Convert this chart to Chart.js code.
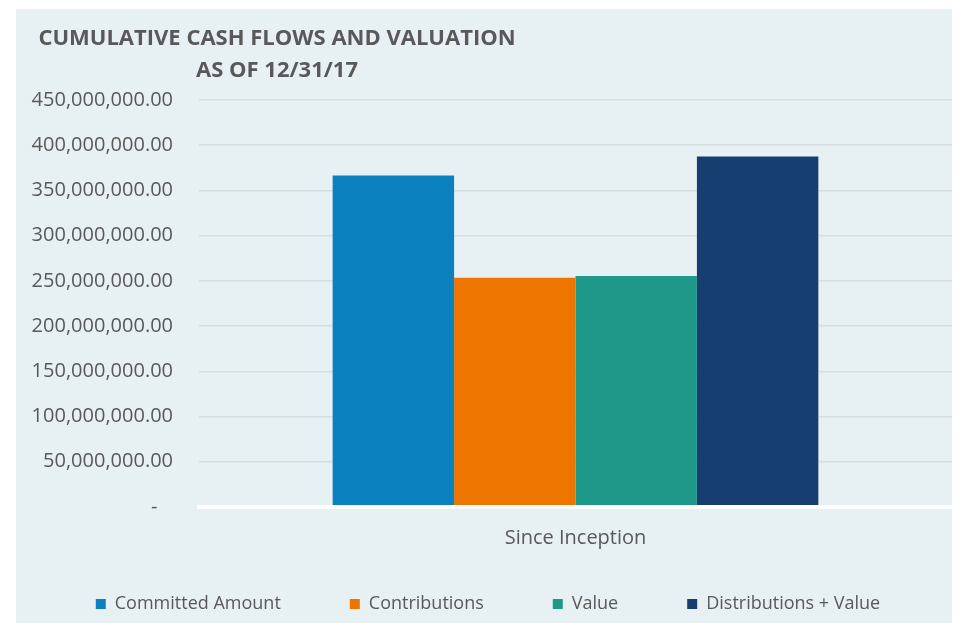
<!DOCTYPE html>
<html>
<head>
<meta charset="utf-8">
<script src="https://cdn.jsdelivr.net/npm/chart.js@4"></script>
<style>
  html, body { margin: 0; padding: 0; background: #ffffff; }
  #panel { position: absolute; left: 16px; top: 9px; width: 936px; height: 614px; background: #e7f0f3; }
</style>
</head>
<body>
<div id="panel"><canvas id="grafico"></canvas></div>
<script>
const categorias = ['Since Inception']
const titulo = ['CUMULATIVE CASH FLOWS AND VALUATION', 'AS OF 12/31/17']
const series = ['Committed Amount', 'Contributions', 'Value', 'Distributions + Value']
const valores = [366500000, 253500000, 255500000, 387500000]
const cores = ['#0b80be', '#ee7600', '#1f988a', '#173e70']
const eixoMin = 0
const eixoMax = 450000000
const eixoPasso = 50000000

const corTexto = '#595959'
const fonte = "'Open Sans', sans-serif"

// desenha o titulo em duas linhas, centrado no canto superior esquerdo
const pluginTitulo = {
	id: 'tituloExcel',
	afterDraw(chart) {
		const ctx = chart.ctx
		ctx.save()
		ctx.fillStyle = corTexto
		ctx.font = "bold 22px " + fonte
		ctx.textAlign = 'center'
		ctx.textBaseline = 'middle'
		ctx.fillText(titulo[0], 261, 30)
		ctx.fillText(titulo[1], 261, 62)
		ctx.restore()
	}
}

const dataSets = series.map((nome, i) => ({
	label: nome,
	data: [valores[i]],
	backgroundColor: cores[i],
	borderWidth: 0,
	categoryPercentage: 0.645,
	barPercentage: 1
}))

const chart = new Chart(document.getElementById('grafico'), {
	type: 'bar',
	data: {
		labels: categorias,
		datasets: dataSets
	},
	options: {
		responsive: true,
		maintainAspectRatio: false,
		animation: false,
		layout: {
			padding: { top: 91, left: 8, right: 0, bottom: 0 }
		},
		plugins: {
			title: { display: false },
			tooltip: { enabled: false },
			legend: {
				position: 'bottom',
				labels: {
					boxWidth: 10,
					boxHeight: 10,
					padding: 69,
					color: corTexto,
					font: { family: fonte, size: 18 }
				}
			}
		},
		scales: {
			x: {
				grid: { display: false },
				border: { display: true, color: '#ffffff', width: 4, z: 1 }, // linha branca da base por cima das barras
				ticks: { display: false },
				// rotulo da categoria como titulo do eixo (o rotulo do tick seria recortado pela caixa do eixo)
				title: {
					display: true,
					text: categorias[0],
					color: corTexto,
					font: { family: fonte, size: 20 },
					padding: { top: 0, bottom: -24 }
				},
				afterFit(scale) { scale.height = 19 }
			},
			y: {
				min: eixoMin,
				max: eixoMax,
				border: { display: false },
				grid: { color: '#d5dde1', lineWidth: 1.5, drawTicks: false },
				ticks: {
					stepSize: eixoPasso,
					padding: 26,
					color: corTexto,
					font: { family: fonte, size: 20 },
					callback: (v) => v === 0 ? '-   ' : v.toLocaleString('en-US', { minimumFractionDigits: 2, maximumFractionDigits: 2 })
				},
				afterFit(scale) { scale.width = 175 }
			}
		}
	},
	plugins: [pluginTitulo]
})
</script>
</body>
</html>
